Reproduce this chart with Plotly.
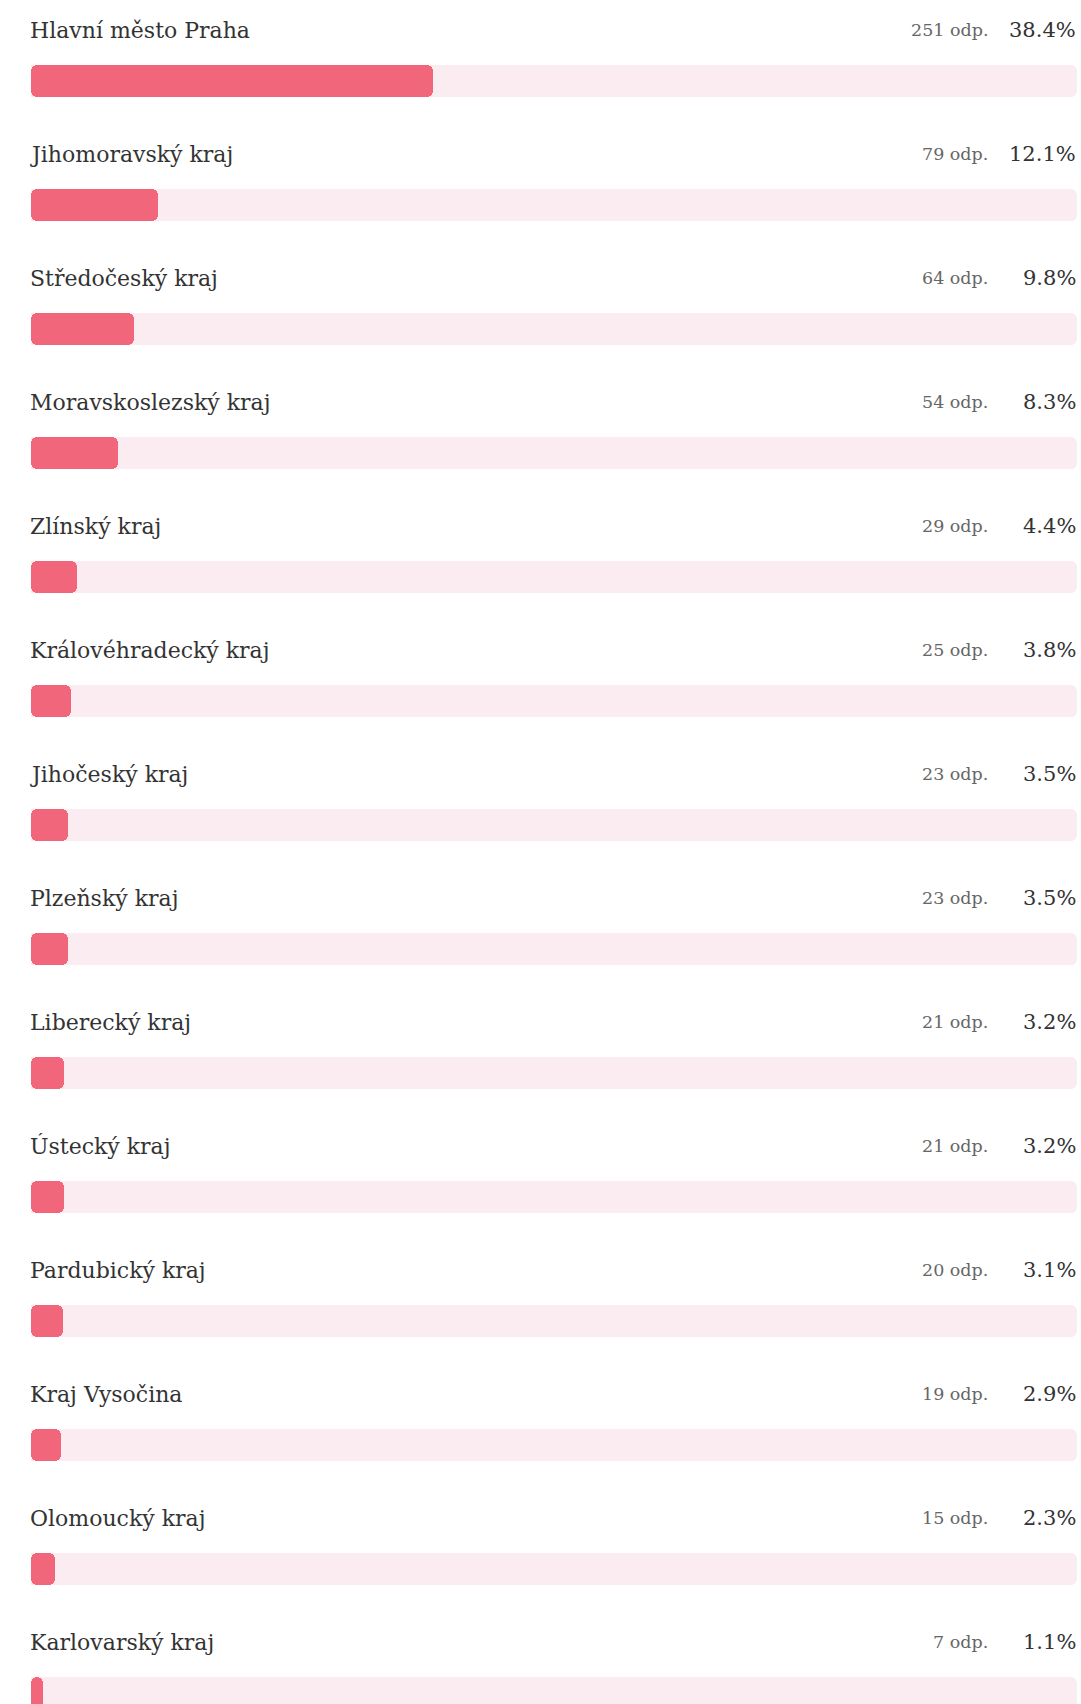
import plotly.graph_objects as go

regions = ["Hlavní město Praha", "Jihomoravský kraj", "Středočeský kraj",
           "Moravskoslezský kraj", "Zlínský kraj", "Královéhradecký kraj",
           "Jihočeský kraj", "Plzeňský kraj", "Liberecký kraj", "Ústecký kraj",
           "Pardubický kraj", "Kraj Vysočina", "Olomoucký kraj", "Karlovarský kraj"]
counts = [251, 79, 64, 54, 29, 25, 23, 23, 21, 21, 20, 19, 15, 7]
percents = [38.4, 12.1, 9.8, 8.3, 4.4, 3.8, 3.5, 3.5, 3.2, 3.2, 3.1, 2.9, 2.3, 1.1]
scale_max = 100

W, H = 1081, 1704
FILL = "#F2667B"
TRACK = "#FAECF0"
idx = list(range(len(regions)))

fig = go.Figure()
# full-width track
fig.add_trace(go.Bar(y=idx, x=[scale_max] * len(idx), orientation="h",
                     marker=dict(color=TRACK, cornerradius=6, line=dict(width=0)),
                     width=0.258, hoverinfo="skip", showlegend=False))
# filled part, drawn from value back to 0 so the left end is rounded
fig.add_trace(go.Bar(y=idx, x=[-p for p in percents], base=percents, orientation="h",
                     marker=dict(color=FILL, cornerradius=6, line=dict(width=0)),
                     width=0.258, hoverinfo="skip", showlegend=False))

ann = []
for i, (r, c, p) in enumerate(zip(regions, counts, percents)):
    ann.append(dict(x=28 / W, xref="paper", y=i, yref="y", yshift=51,
                    text=r, showarrow=False, xanchor="left", yanchor="middle",
                    font=dict(family="DejaVu Serif", size=22, color="#333333")))
    ann.append(dict(x=990 / W, xref="paper", y=i, yref="y", yshift=51,
                    text=f"{c} odp.", showarrow=False, xanchor="right", yanchor="middle",
                    font=dict(family="DejaVu Serif", size=17.5, color="#666666")))
    ann.append(dict(x=1078 / W, xref="paper", y=i, yref="y", yshift=51,
                    text=f"{p}%", showarrow=False, xanchor="right", yanchor="middle",
                    font=dict(family="DejaVu Serif", size=21, color="#333333")))

fig.update_layout(
    width=W, height=H, margin=dict(l=0, r=0, t=0, b=0),
    paper_bgcolor="white", plot_bgcolor="white",
    barmode="overlay", bargap=0,
    xaxis=dict(domain=[31 / W, 1077 / W], range=[0, scale_max], visible=False, fixedrange=True),
    yaxis=dict(range=[(H - 81) / 124, -81 / 124], visible=False, fixedrange=True),
    annotations=ann,
)

fig.write_html("out.html", config={"displayModeBar": False},
               post_script="document.body.style.margin='0';document.body.style.overflow='hidden';")
